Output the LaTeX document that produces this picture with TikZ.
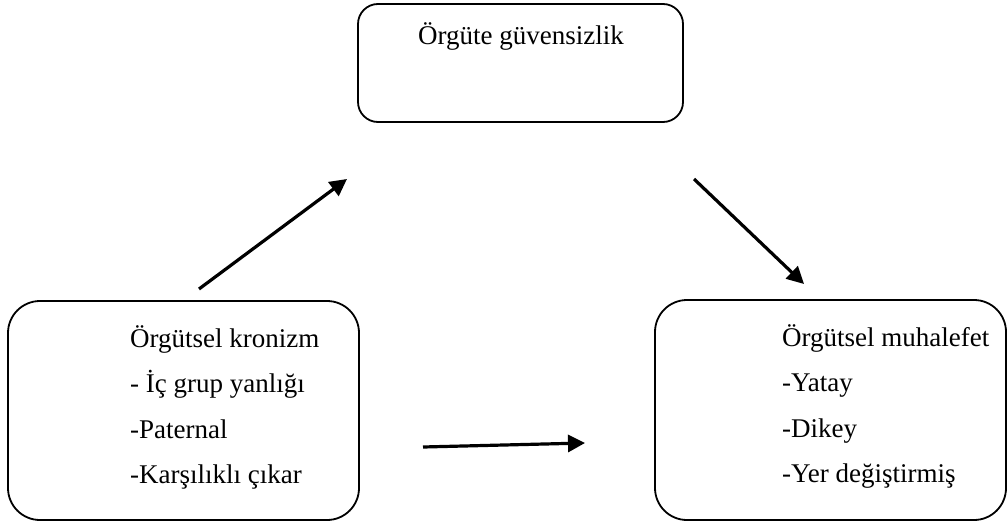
\documentclass[tikz,border=0pt]{standalone}
\usepackage{fontspec}
\setmainfont{Liberation Serif}
\usetikzlibrary{arrows.meta}
\begin{document}
\begin{tikzpicture}[x=1pt,y=-1pt,
  card/.style={draw=black, line width=1.8pt, inner sep=0pt},
  label/.style={anchor=base west, inner sep=0pt, font=\fontsize{27}{32}\selectfont},
  flow/.style={line width=3.2pt, -{Triangle[length=17pt,width=17pt]}}]
  \useasboundingbox[fill=white] (0,0) rectangle (1008,524);

  % boxes
  \node[card, rounded corners=20pt, minimum width=325pt, minimum height=118pt] (trust) at (520.5,63) {};
  \node[card, rounded corners=32pt, minimum width=351pt, minimum height=219pt] (chron) at (183.5,410.5) {};
  \node[card, rounded corners=32pt, minimum width=351pt, minimum height=220pt] (opp) at (830.5,410) {};

  % texts
  \node[label, anchor=base] (trustT) at (521,45) {Örgüte güvensizlik};

  \node[label] (c1) at (130,347) {Örgütsel kronizm};
  \node[label] (c2) at (130,392.5) {- İç grup yanlığı};
  \node[label] (c3) at (130,438) {-Paternal};
  \node[label] (c4) at (130,483) {-Karşılıklı çıkar};

  \node[label] (o1) at (782,346) {Örgütsel muhalefet};
  \node[label] (o2) at (782,391.5) {-Yatay};
  \node[label] (o3) at (782,437) {-Dikey};
  \node[label] (o4) at (782,482) {-Yer değiştirmiş};

  % arrow end points
  \coordinate (a1s) at (199,289);
  \coordinate (a1e) at (347,179);
  \coordinate (a2s) at (694,179);
  \coordinate (a2e) at (804,284);
  \coordinate (a3s) at (423,447);
  \coordinate (a3e) at (585,443);

  \draw[flow] (a1s) -- (a1e);
  \draw[flow] (a2s) -- (a2e);
  \draw[flow] (a3s) -- (a3e);
\end{tikzpicture}
\end{document}
